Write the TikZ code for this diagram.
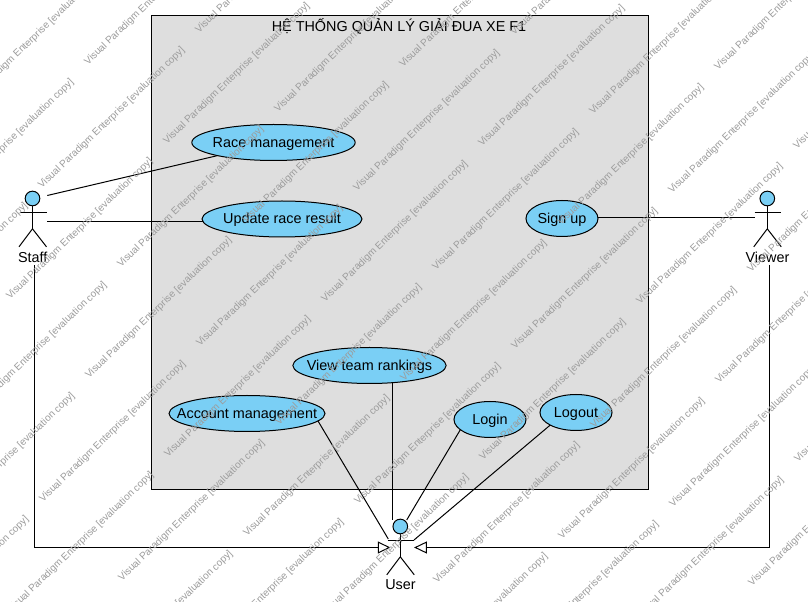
\documentclass[tikz,border=0pt]{standalone}
\usepackage{fontspec}
\setmainfont{Liberation Sans}
\usetikzlibrary{shapes.geometric}
\definecolor{ucfill}{HTML}{7ACFF5}
\definecolor{sysfill}{HTML}{DEDEDE}
\definecolor{wmgrey}{HTML}{9C9C9C}
\newcommand{\uctext}[1]{\raisebox{-3.4pt}[0pt][0pt]{\makebox[0pt]{#1}}}
\tikzset{
  lbl/.style={font=\fontsize{10.8pt}{12pt}\selectfont,text=black},
  usecase/.style={shape=ellipse,draw=black,fill=ucfill,line width=.75pt,inner sep=0pt,outer sep=0pt,minimum height=27pt,lbl},
  head/.style={shape=circle,draw=black,fill=ucfill,line width=.75pt,inner sep=0pt,outer sep=0pt,minimum size=11pt},
  limb/.style={draw=black,line width=.75pt},
  assoc/.style={draw=black,line width=.75pt},
  hollow/.style={draw=black,fill=white,line width=.75pt,line join=miter},
  wmark/.style={font=\fontsize{7.5pt}{9pt}\selectfont,text=wmgrey,rotate=44,anchor=base west,inner sep=0pt,outer sep=0pt},
}
\newcommand{\actorfig}[4]{%
  \node[head] (#1-head) at (#2,#3) {};
  \draw[limb] (#1-head.south) -- ++(0,23) coordinate (#1-hip);
  \draw[limb] ([shift={(-12.8,14.2)}]#2,#3) -- ([shift={(14,14.2)}]#2,#3);
  \draw[limb] (#1-hip) -- ++(-13.5,18);
  \draw[limb] (#1-hip) -- ++(14,18);
  \node[lbl] (#1-label) at ([shift={(0.2,58.5)}]#2,#3) {#4};
}
\begin{document}
\begin{tikzpicture}[x=.75pt,y=-.75pt]
\useasboundingbox (0,0) rectangle (808,602);
\clip (0,0) rectangle (808,602);
\fill[white] (0,0) rectangle (808,602);
% system boundary
\node[draw=black,fill=sysfill,line width=.75pt,inner sep=0pt,outer sep=0pt,minimum width=372.75pt,minimum height=355.5pt,anchor=north west] (system) at (151.5,15.5) {};
\node[lbl] (title) at (399,26.5) {HỆ THỐNG QUẢN LÝ GIẢI ĐUA XE F1};
% actors
\actorfig{staff}{32.5}{198.5}{Staff}
\actorfig{viewer}{767.3}{198.5}{Viewer}
\actorfig{user}{400.3}{526.5}{User}
% free connector ends
\coordinate (staffA) at (47.3,195.5);
\coordinate (staffB) at (47,221.5);
\coordinate (viewerA) at (755,217.5);
\coordinate (staffC) at (34.5,265.5);
\coordinate (viewerC) at (769.3,265);
\coordinate (userL) at (389.3,547.5);
\coordinate (userR) at (415.3,547.5);
\coordinate (userV) at (392.3,520);
\coordinate (userA) at (388.3,539);
\coordinate (userB) at (406.7,520);
\coordinate (userC) at (414,540);
% use cases
\draw[assoc] (staffB) -- (204,221.5);
\draw[assoc] (userV) -- (392.3,380);
\node[usecase,minimum width=122.5pt] (race) at (273.5,142.5) {\uctext{Race management}};
\node[usecase,minimum width=120pt] (update) at (282,219) {\uctext{Update race result}};
\node[usecase,minimum width=54pt] (signup) at (562,218.5) {\uctext{Sign up}};
\node[usecase,minimum width=115pt] (view) at (369.5,365.5) {\uctext{View team rankings}};
\node[usecase,minimum width=117pt] (account) at (247,413.5) {\uctext{Account management}};
\node[usecase,minimum width=54pt] (login) at (490,419.5) {\uctext{Login}};
\node[usecase,minimum width=54pt] (logout) at (576,412.5) {\uctext{Logout}};
% associations
\draw[assoc] (staffA) -- (race);
\draw[assoc] (signup.east |- viewerA) -- (viewerA);
\draw[assoc] (account.-6.2) -- (userA);
\draw[assoc] (login.199) -- (userB);
\draw[assoc] (logout.206) -- (userC);
% generalisations
\draw[assoc] (staffC) |- ([xshift=-8.25pt]userL);
\draw[assoc] (viewerC) |- ([xshift=8.25pt]userR);
\draw[hollow] (userL) -- ++(-11,-5.3) -- ++(0,10.6) -- cycle;
\draw[hollow] (userR) -- ++(11,-5.3) -- ++(0,10.6) -- cycle;
% watermark
\foreach \i in {-3,...,8}{
  \foreach \j in {-3,...,4}{
    \pgfmathsetmacro{\px}{88+79*\i+315*\j}
    \pgfmathsetmacro{\py}{65.5+79*\i+2.5*\j}
    \pgfmathsetmacro{\qx}{199+79*\i+315*\j}
    \pgfmathsetmacro{\qy}{33.5+79*\i+2.5*\j}
    \node[wmark] (wmp-\i-\j) at (\px,\py) {Visual Paradigm Enterprise [evaluation copy]};
    \node[wmark] (wmq-\i-\j) at (\qx,\qy) {Visual Paradigm Enterprise [evaluation copy]};
  }
}
\end{tikzpicture}
\end{document}
